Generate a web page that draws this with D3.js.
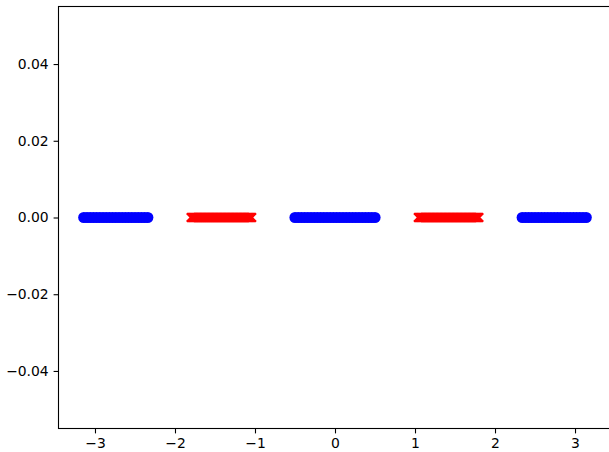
<!DOCTYPE html>
<html>
<head>
<meta charset="utf-8">
<script src="https://cdn.jsdelivr.net/npm/d3@7"></script>
<style>
  html, body { margin: 0; padding: 0; background: #fff; }
  svg { display: block; }
  text { font-family: "DejaVu Sans", sans-serif; }
</style>
</head>
<body>
<svg id="chart" width="609" height="452"></svg>
<script>
// ---- data ----
const blueX = [
  -3.14,-3.10,-3.06,-3.02,-2.98,-2.94,-2.90,-2.86,-2.82,-2.78,-2.74,-2.70,-2.66,-2.62,-2.58,-2.54,-2.50,-2.46,-2.42,-2.38,-2.34,
  -0.50,-0.46,-0.42,-0.38,-0.34,-0.30,-0.26,-0.22,-0.18,-0.14,-0.10,-0.06,-0.02,0.02,0.06,0.10,0.14,0.18,0.22,0.26,0.30,0.34,0.38,0.42,0.46,0.50,
  2.34,2.38,2.42,2.46,2.50,2.54,2.58,2.62,2.66,2.70,2.74,2.78,2.82,2.86,2.90,2.94,2.98,3.02,3.06,3.10,3.14
];
const redX = [
  -1.80,-1.79,-1.78,-1.77,-1.76,-1.75,-1.74,-1.73,-1.72,-1.71,
  -1.70,-1.69,-1.68,-1.67,-1.66,-1.65,-1.64,-1.63,-1.62,-1.61,
  -1.60,-1.59,-1.58,-1.57,-1.56,-1.55,-1.54,-1.53,-1.52,-1.51,
  -1.50,-1.49,-1.48,-1.47,-1.46,-1.45,-1.44,-1.43,-1.42,-1.41,
  -1.40,-1.39,-1.38,-1.37,-1.36,-1.35,-1.34,-1.33,-1.32,-1.31,
  -1.30,-1.29,-1.28,-1.27,-1.26,-1.25,-1.24,-1.23,-1.22,-1.21,
  -1.20,-1.19,-1.18,-1.17,-1.16,-1.15,-1.14,-1.13,-1.12,-1.11,
  -1.10,-1.09,-1.08,-1.07,-1.06,-1.05,-1.04,
  1.04,1.05,1.06,1.07,1.08,1.09,1.10,
  1.11,1.12,1.13,1.14,1.15,1.16,1.17,1.18,1.19,1.20,
  1.21,1.22,1.23,1.24,1.25,1.26,1.27,1.28,1.29,1.30,
  1.31,1.32,1.33,1.34,1.35,1.36,1.37,1.38,1.39,1.40,
  1.41,1.42,1.43,1.44,1.45,1.46,1.47,1.48,1.49,1.50,
  1.51,1.52,1.53,1.54,1.55,1.56,1.57,1.58,1.59,1.60,
  1.61,1.62,1.63,1.64,1.65,1.66,1.67,1.68,1.69,1.70,
  1.71,1.72,1.73,1.74,1.75,1.76,1.77,1.78,1.79,1.80
];
const seriesY = 0;
const xTicks = [-3, -2, -1, 0, 1, 2, 3];
const yTicks = [-0.04, -0.02, 0.00, 0.02, 0.04];
const xDomain = [-3.456, 3.456];
const yDomain = [-0.055, 0.055];

// ---- layout ----
const svg = d3.select("#chart");
const mLeft = 58.5, mRight = 611.5, mTop = 6.5, mBottom = 428.5;

const x = d3.scaleLinear().domain(xDomain).range([mLeft, mRight]);
const y = d3.scaleLinear().domain(yDomain).range([mBottom, mTop]);

const fmtY = v => (v < 0 ? "\u2212" : "") + Math.abs(v).toFixed(2);
const fmtX = v => (v < 0 ? "\u2212" : "") + Math.abs(v);

// markers
const g = svg.append("g");
g.selectAll("circle.blue").data(blueX).join("circle")
  .attr("class", "blue")
  .attr("cx", d => x(d)).attr("cy", y(seriesY)).attr("r", 5.6)
  .attr("fill", "#0000ff");

const s = 4.2;
g.selectAll("path.red").data(redX).join("path")
  .attr("class", "red")
  .attr("transform", d => `translate(${x(d)},${y(seriesY)})`)
  .attr("d", `M${-s},${-s}L${s},${s}M${-s},${s}L${s},${-s}`)
  .attr("stroke", "#ff0000").attr("stroke-width", 2.2).attr("fill", "none");

// axes
const xAxis = d3.axisBottom(x).tickValues(xTicks).tickFormat(fmtX).tickSize(4.9).tickPadding(4.9);
const yAxis = d3.axisLeft(y).tickValues(yTicks).tickFormat(fmtY).tickSize(4.9).tickPadding(4.9);

const gx = svg.append("g").attr("transform", `translate(0,${mBottom})`).call(xAxis);
const gy = svg.append("g").attr("transform", `translate(${mLeft},0)`).call(yAxis);
[gx, gy].forEach(a => {
  a.select(".domain").remove();
  a.selectAll(".tick line").attr("stroke", "#000").attr("stroke-width", 1.1);
  a.selectAll(".tick text").attr("fill", "#000").style("font-size", "13.9px").style("font-family", "'DejaVu Sans', sans-serif");
});

// spines
svg.append("rect")
  .attr("x", mLeft).attr("y", mTop)
  .attr("width", mRight - mLeft).attr("height", mBottom - mTop)
  .attr("fill", "none").attr("stroke", "#000").attr("stroke-width", 1.1);
</script>
</body>
</html>
